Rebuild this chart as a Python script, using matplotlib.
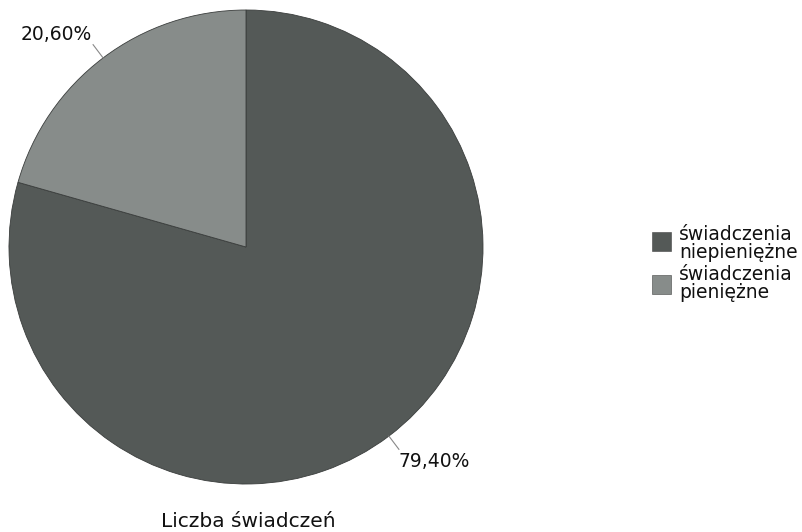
import matplotlib
matplotlib.use("Agg")
import matplotlib.pyplot as plt
from matplotlib.patches import Rectangle
import numpy as np

categories = ["świadczenia\nniepieniężne", "świadczenia\npieniężne"]
values = [79.40, 20.60]
value_labels = ["79,40%", "20,60%"]
colors = ["#545957", "#878c8a"]
title = "Liczba świadczeń"

W, H = 803, 532
fig = plt.figure(figsize=(W/100, H/100), dpi=100)
ax = fig.add_axes([9/W, (H-484)/H, 474/W, 474/H])
wedges, _ = ax.pie(values, colors=colors, startangle=90, counterclock=False,
                   radius=1.0, wedgeprops=dict(linewidth=0.6, edgecolor="#3a3d3c"))
ax.set_xlim(-1, 1)
ax.set_ylim(-1, 1)
ax.set_aspect("equal")
ax.axis("off")

for w, lab in zip(wedges, value_labels):
    ang = np.deg2rad((w.theta1 + w.theta2) / 2)
    ca, sa = np.cos(ang), np.sin(ang)
    r1 = 1.07
    ax.plot([1.0 * ca, r1 * ca], [1.0 * sa, r1 * sa], color="#888888",
            lw=0.8, clip_on=False)
    ha = "left" if ca > 0 else "right"
    va = "top" if sa < 0 else "bottom"
    dx = 0.0 if ca > 0 else -0.005
    dy = -0.012 if sa < 0 else 0.005
    ax.text(r1 * ca + dx, r1 * sa + dy, lab, ha=ha, va=va, fontsize=13.5,
            color="#111111", clip_on=False)

fig.text(248/W, 1 - 527/H, title, ha="center", va="baseline",
         fontsize=14.5, color="#111111")

# legend drawn manually
sq = 19
for i, (c, lab) in enumerate(zip(colors, categories)):
    yc = 241.5 + i * 42.5
    fig.patches.append(Rectangle((652/W, 1 - (yc + sq/2)/H), sq/W, sq/H,
                                 transform=fig.transFigure, facecolor=c,
                                 edgecolor="#444444", linewidth=0.4))
    for j, line in enumerate(lab.split("\n")):
        yb = 240 + i * 40 + j * 18
        fig.text(679/W, 1 - yb/H, line, ha="left", va="baseline",
                 fontsize=13.5, color="#111111")

fig.savefig("out.png", dpi=100)
